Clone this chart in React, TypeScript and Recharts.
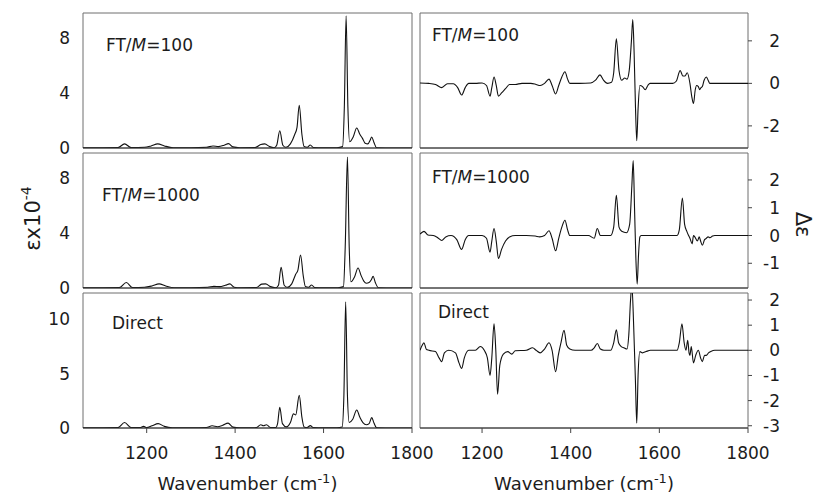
import { Line, LineChart, ReferenceArea, XAxis, YAxis } from "recharts";

const FONT = "'DejaVu Sans', Arial, sans-serif";
const INK = "#1c1c1c";
const FRAME = "#6e6e6e";

type Point = [number, number];

const xTicks = [1200, 1400, 1600, 1800];
const epsTicksFt = [0, 4, 8];
const epsTicksDirect = [0, 5, 10];
const dEpsTicksFt100 = [-2, 0, 2];
const dEpsTicksFt1000 = [-1, 0, 1, 2];
const dEpsTicksDirect = [-3, -2, -1, 0, 1, 2];

// absorption, eps x 10^-4
const epsFt100: Point[] = [
  [1056, 0.02], [1100, 0.02], [1135, 0.03], [1150, 0.3], [1165, 0.03], [1195, 0.05],
  [1210, 0.15], [1225, 0.3], [1240, 0.15], [1260, 0.02], [1300, 0.02], [1335, 0.05],
  [1350, 0.15], [1362, 0.1], [1375, 0.2], [1385, 0.32], [1395, 0.08], [1410, 0.02],
  [1445, 0.03], [1458, 0.25], [1467, 0.3], [1478, 0.1], [1488, 0.02], [1494, 0.2],
  [1501, 1.25], [1508, 0.2], [1515, 0.05], [1525, 0.3], [1535, 1.0], [1540, 1.5],
  [1545, 3.1], [1551, 1.0], [1556, 0.1], [1563, 0.05], [1570, 0.22], [1577, 0.03],
  [1600, 0.01], [1630, 0.02], [1643, 0.1], [1647, 3.0], [1651, 9.6], [1655, 3.0],
  [1659, 0.45], [1667, 0.8], [1675, 1.45], [1682, 1.0], [1688, 0.7], [1694, 0.35],
  [1700, 0.3], [1705, 0.55], [1709, 0.8], [1714, 0.4], [1720, 0.02], [1760, 0], [1800, 0],
];

const epsFt1000: Point[] = [
  [1056, 0.02], [1100, 0.02], [1138, 0.03], [1154, 0.4], [1168, 0.03], [1195, 0.05],
  [1212, 0.15], [1228, 0.3], [1243, 0.15], [1262, 0.02], [1300, 0.02], [1338, 0.05],
  [1352, 0.12], [1365, 0.1], [1378, 0.2], [1388, 0.3], [1398, 0.06], [1412, 0.02],
  [1448, 0.03], [1460, 0.28], [1469, 0.3], [1480, 0.1], [1492, 0.02], [1498, 0.2],
  [1504, 1.5], [1511, 0.2], [1518, 0.05], [1528, 0.3], [1537, 1.0], [1542, 1.3],
  [1548, 2.4], [1554, 0.9], [1559, 0.1], [1566, 0.05], [1573, 0.22], [1580, 0.03],
  [1600, 0.01], [1632, 0.02], [1645, 0.1], [1649, 3.0], [1654, 9.5], [1658, 3.0],
  [1662, 0.45], [1670, 0.8], [1678, 1.45], [1685, 0.9], [1691, 0.5], [1697, 0.35],
  [1703, 0.4], [1708, 0.6], [1712, 0.85], [1717, 0.4], [1724, 0.02], [1760, 0], [1800, 0],
];

const epsDirect: Point[] = [
  [1056, 0.02], [1100, 0.02], [1135, 0.03], [1150, 0.5], [1165, 0.03], [1185, 0.03],
  [1193, 0.15], [1200, 0.03], [1212, 0.2], [1226, 0.4], [1240, 0.15], [1258, 0.02],
  [1300, 0.02], [1335, 0.05], [1348, 0.2], [1360, 0.12], [1372, 0.25], [1384, 0.45],
  [1395, 0.08], [1410, 0.02], [1448, 0.03], [1458, 0.3], [1464, 0.2], [1471, 0.3],
  [1480, 0.05], [1492, 0.05], [1496, 0.4], [1501, 1.9], [1507, 0.4], [1516, 0.1],
  [1525, 0.5], [1532, 1.3], [1537, 1.2], [1545, 3.0], [1551, 1.0], [1556, 0.1],
  [1563, 0.05], [1570, 0.22], [1577, 0.03], [1600, 0.01], [1630, 0.02], [1642, 0.1],
  [1646, 3.0], [1650, 11.6], [1654, 3.0], [1658, 0.5], [1666, 0.8], [1675, 1.65],
  [1682, 1.0], [1689, 0.5], [1697, 0.3], [1703, 0.4], [1709, 0.95], [1714, 0.45],
  [1720, 0.02], [1760, 0], [1800, 0],
];

// circular dichroism, delta eps
const dEpsFt100: Point[] = [
  [1060, 0.02], [1080, 0.0], [1095, -0.05], [1109, -0.2], [1122, -0.02], [1135, -0.02],
  [1145, -0.2], [1154, -0.55], [1162, -0.2], [1170, 0.0], [1185, 0.0], [1200, 0.02],
  [1210, -0.1], [1218, -0.6], [1222, -0.2], [1227, 0.3], [1232, -0.1], [1237, -0.6],
  [1244, -0.45], [1253, -0.25], [1262, -0.05], [1275, -0.05], [1290, 0.0], [1310, 0.0],
  [1322, -0.05], [1331, -0.1], [1341, 0.0], [1351, 0.2], [1358, -0.1], [1366, -0.5],
  [1373, -0.1], [1380, 0.3], [1387, 0.55], [1393, 0.2], [1398, 0.0], [1420, 0.0],
  [1445, 0.02], [1456, 0.15], [1466, 0.4], [1474, 0.15], [1483, 0.0], [1492, 0.05],
  [1497, 0.5], [1503, 2.1], [1509, 0.6], [1515, 0.15], [1522, 0.25], [1527, 0.2],
  [1532, 0.6], [1537, 2.0], [1540, 3.0], [1543, 1.5], [1546, -1.0], [1549, -2.7],
  [1552, -1.2], [1556, -0.1], [1562, -0.15], [1568, -0.3], [1574, -0.1], [1579, 0.0],
  [1600, 0.0], [1630, 0.0], [1638, 0.1], [1647, 0.6], [1653, 0.35], [1658, 0.35],
  [1663, 0.5], [1669, 0.0], [1673, -0.6], [1677, -0.95], [1681, -0.3], [1684, -0.1],
  [1688, -0.15], [1691, -0.3], [1694, -0.2], [1697, -0.15], [1701, 0.15], [1706, 0.3],
  [1710, 0.15], [1714, 0.0], [1740, 0.0], [1800, 0.0],
];

const dEpsFt1000: Point[] = [
  [1060, 0.05], [1069, 0.15], [1078, 0.02], [1090, 0.0], [1100, -0.08], [1109, -0.18],
  [1118, -0.05], [1130, 0.0], [1143, -0.15], [1154, -0.5], [1162, -0.15], [1170, 0.0],
  [1200, 0.0], [1210, -0.1], [1218, -0.6], [1222, -0.2], [1227, 0.25], [1232, -0.2],
  [1237, -0.83], [1244, -0.5], [1253, -0.2], [1262, -0.05], [1275, 0.0], [1300, 0.0],
  [1320, -0.02], [1330, -0.05], [1341, 0.0], [1351, 0.17], [1358, -0.1], [1366, -0.55],
  [1373, -0.1], [1380, 0.3], [1387, 0.55], [1393, 0.2], [1398, 0.0], [1440, 0.0],
  [1453, -0.1], [1460, 0.25], [1467, 0.0], [1490, 0.0], [1497, 0.3], [1503, 1.45],
  [1509, 0.3], [1515, 0.15], [1526, 0.1], [1533, 0.4], [1538, 1.8], [1541, 2.7],
  [1544, 1.0], [1547, -0.8], [1550, -1.75], [1553, -0.7], [1556, -0.05], [1559, 0.0],
  [1600, 0.0], [1640, 0.0], [1645, 0.2], [1652, 1.35], [1657, 0.4], [1662, 0.15],
  [1666, 0.0], [1669, -0.1], [1674, -0.3], [1677, 0.0], [1680, -0.05], [1686, -0.2],
  [1690, -0.05], [1693, -0.2], [1697, -0.35], [1702, -0.15], [1706, -0.1], [1710, -0.05],
  [1714, -0.08], [1720, -0.02], [1725, 0.0], [1800, 0.0],
];

const dEpsDirect: Point[] = [
  [1060, 0.0], [1065, 0.2], [1069, 0.3], [1074, 0.05], [1080, 0.0], [1095, -0.05],
  [1103, -0.3], [1109, -0.45], [1115, -0.1], [1125, 0.0], [1140, -0.1], [1148, -0.5],
  [1154, -0.72], [1160, -0.3], [1170, 0.0], [1185, 0.0], [1196, 0.15], [1205, 0.0],
  [1212, -0.3], [1218, -1.0], [1222, -0.3], [1227, 1.05], [1231, 0.0], [1235, -1.75],
  [1240, -0.6], [1248, -0.15], [1258, -0.05], [1267, -0.15], [1275, -0.02], [1300, 0.0],
  [1314, 0.1], [1322, 0.0], [1331, -0.1], [1341, 0.05], [1351, 0.3], [1358, 0.0],
  [1366, -0.85], [1372, -0.2], [1378, 0.3], [1385, 0.8], [1391, 0.2], [1398, 0.05],
  [1410, 0.0], [1446, 0.0], [1453, 0.1], [1460, 0.27], [1467, 0.05], [1475, 0.0],
  [1490, 0.0], [1497, 0.3], [1503, 0.82], [1508, 0.3], [1514, 0.15], [1520, 0.1],
  [1527, 0.05], [1531, 0.6], [1535, 2.0], [1538, 2.6], [1542, 1.0], [1546, -1.2],
  [1549, -2.9], [1552, -1.0], [1556, -0.05], [1562, -0.1], [1570, -0.05], [1580, 0.0],
  [1640, 0.0], [1645, 0.3], [1651, 1.05], [1656, 0.3], [1660, 0.0], [1664, 0.4],
  [1667, -0.1], [1669, -0.2], [1672, 0.15], [1677, -0.5], [1682, -0.2], [1688, 0.0],
  [1693, -0.3], [1697, -0.45], [1702, -0.2], [1706, -0.2], [1711, -0.1], [1716, -0.05],
  [1725, 0.0], [1800, 0.0],
];

type PanelTitle = { pre: string; it?: string; post?: string; dx: number; dy: number };

type PanelProps = {
  points: Point[];
  side: "left" | "right";
  row: 0 | 1 | 2;
  xMin: number;
  yDomain: [number, number];
  yTicks: number[];
  title: PanelTitle;
};

const ROW_TOP = [13, 153, 293];
const PLOT_H = 135;

function XTitle(props: any) {
  const vb = props.viewBox ?? { x: 0, y: 0, width: 0 };
  return (
    <text
      x={vb.x + vb.width / 2}
      y={vb.y + 62}
      textAnchor="middle"
      fill={INK}
      fontSize={18}
      fontFamily={FONT}
    >
      Wavenumber (cm
      <tspan dy={-7} fontSize={13}>-1</tspan>
      <tspan dy={7}>)</tspan>
    </text>
  );
}

function EpsTitle(props: any) {
  const vb = props.viewBox ?? { x: 0, y: 0, height: 0 };
  const cx = 40;
  const cy = vb.y + vb.height / 2 - 2;
  return (
    <text
      x={cx}
      y={cy}
      transform={`rotate(-90 ${cx} ${cy})`}
      textAnchor="middle"
      fill={INK}
      fontSize={21}
      fontFamily={FONT}
    >
      εx10
      <tspan dy={-9} fontSize={14}>-4</tspan>
    </text>
  );
}

function DeltaTitle(props: any) {
  const vb = props.viewBox ?? { x: 0, y: 0, height: 0 };
  const cx = vb.x + 48;
  const cy = vb.y + vb.height / 2 + 4;
  return (
    <text
      x={cx}
      y={cy}
      transform={`rotate(90 ${cx} ${cy})`}
      textAnchor="middle"
      fill={INK}
      fontSize={21}
      fontFamily={FONT}
    >
      Δε
    </text>
  );
}

function Panel({ points, side, row, xMin, yDomain, yTicks, title }: PanelProps) {
  const data = points.map(([w, v]) => ({ w, v }));
  const isLeft = side === "left";
  const isBottom = row === 2;
  const xHeight = isBottom ? 67 : 5;
  const chartLeft = isLeft ? 0 : 420;
  const chartWidth = isLeft ? 412 : 394;
  const chartTop = ROW_TOP[row] - 8;
  const chartHeight = 8 + PLOT_H + xHeight;

  const renderTitle = (p: any) => {
    const vb = p.viewBox ?? { x: 0, y: 0 };
    return (
      <text
        x={vb.x + title.dx}
        y={vb.y + title.dy}
        fill={INK}
        fontSize={17}
        fontFamily={FONT}
      >
        {title.pre}
        {title.it ? <tspan fontStyle="italic">{title.it}</tspan> : null}
        {title.post ?? ""}
      </text>
    );
  };

  return (
    <div style={{ position: "absolute", left: chartLeft, top: chartTop }}>
      <LineChart
        width={chartWidth}
        height={chartHeight}
        data={data}
        margin={{ top: 8, right: 0, bottom: 0, left: 0 }}
      >
        <XAxis
          type="number"
          dataKey="w"
          domain={[xMin, 1800]}
          ticks={xTicks}
          interval={0}
          allowDataOverflow
          height={xHeight}
          tickSize={5}
          tickMargin={14}
          axisLine={{ stroke: "#333" }}
          tickLine={{ stroke: "#444" }}
          tick={
            isBottom
              ? (p: any) => (
                  <text
                    x={p.x}
                    y={p.y}
                    dy={12}
                    textAnchor="middle"
                    fill={INK}
                    fontSize={17}
                    fontFamily={FONT}
                  >
                    {p.payload.value}
                  </text>
                )
              : false
          }
          label={isBottom ? XTitle : undefined}
        />
        <YAxis
          type="number"
          orientation={side}
          domain={yDomain}
          ticks={yTicks}
          interval={0}
          allowDataOverflow
          width={isLeft ? 83 : 66}
          axisLine={false}
          tickLine={isLeft ? false : { stroke: "#444" }}
          tickSize={isLeft ? 5 : 4}
          tickMargin={isLeft ? 8 : 28}
          tick={(p: any) => (
            <text
              x={p.x}
              y={p.y}
              dy={6}
              textAnchor="end"
              fill={INK}
              fontSize={17}
              fontFamily={FONT}
            >
              {p.payload.value}
            </text>
          )}
          label={row === 1 ? (isLeft ? EpsTitle : DeltaTitle) : undefined}
        />
        <ReferenceArea
          x1={xMin}
          x2={1800}
          y1={yDomain[0]}
          y2={yDomain[1]}
          fill="none"
          stroke={FRAME}
          strokeWidth={1}
          label={renderTitle}
        />
        <Line
          type="monotone"
          dataKey="v"
          stroke="#111"
          strokeWidth={1.1}
          dot={false}
          isAnimationActive={false}
        />
      </LineChart>
    </div>
  );
}

export default function App() {
  return (
    <div
      style={{
        position: "absolute",
        left: 0,
        top: 0,
        width: 814,
        height: 495,
        background: "#fff",
        overflow: "hidden",
      }}
    >
      <style>{".recharts-surface{overflow:visible}"}</style>
      <Panel
        points={epsFt100}
        side="left"
        row={0}
        xMin={1056}
        yDomain={[0, 9.8]}
        yTicks={epsTicksFt}
        title={{ pre: "FT/", it: "M", post: "=100", dx: 23, dy: 38 }}
      />
      <Panel
        points={epsFt1000}
        side="left"
        row={1}
        xMin={1056}
        yDomain={[0, 9.8]}
        yTicks={epsTicksFt}
        title={{ pre: "FT/", it: "M", post: "=1000", dx: 19, dy: 48 }}
      />
      <Panel
        points={epsDirect}
        side="left"
        row={2}
        xMin={1056}
        yDomain={[0, 12.4]}
        yTicks={epsTicksDirect}
        title={{ pre: "Direct", dx: 29, dy: 36 }}
      />
      <Panel
        points={dEpsFt100}
        side="right"
        row={0}
        xMin={1060}
        yDomain={[-3.04, 3.31]}
        yTicks={dEpsTicksFt100}
        title={{ pre: "FT/", it: "M", post: "=100", dx: 12, dy: 28 }}
      />
      <Panel
        points={dEpsFt1000}
        side="right"
        row={1}
        xMin={1060}
        yDomain={[-1.89, 2.97]}
        yTicks={dEpsTicksFt1000}
        title={{ pre: "FT/", it: "M", post: "=1000", dx: 12, dy: 30 }}
      />
      <Panel
        points={dEpsDirect}
        side="right"
        row={2}
        xMin={1060}
        yDomain={[-3.09, 2.28]}
        yTicks={dEpsTicksDirect}
        title={{ pre: "Direct", dx: 18, dy: 25 }}
      />
    </div>
  );
}
